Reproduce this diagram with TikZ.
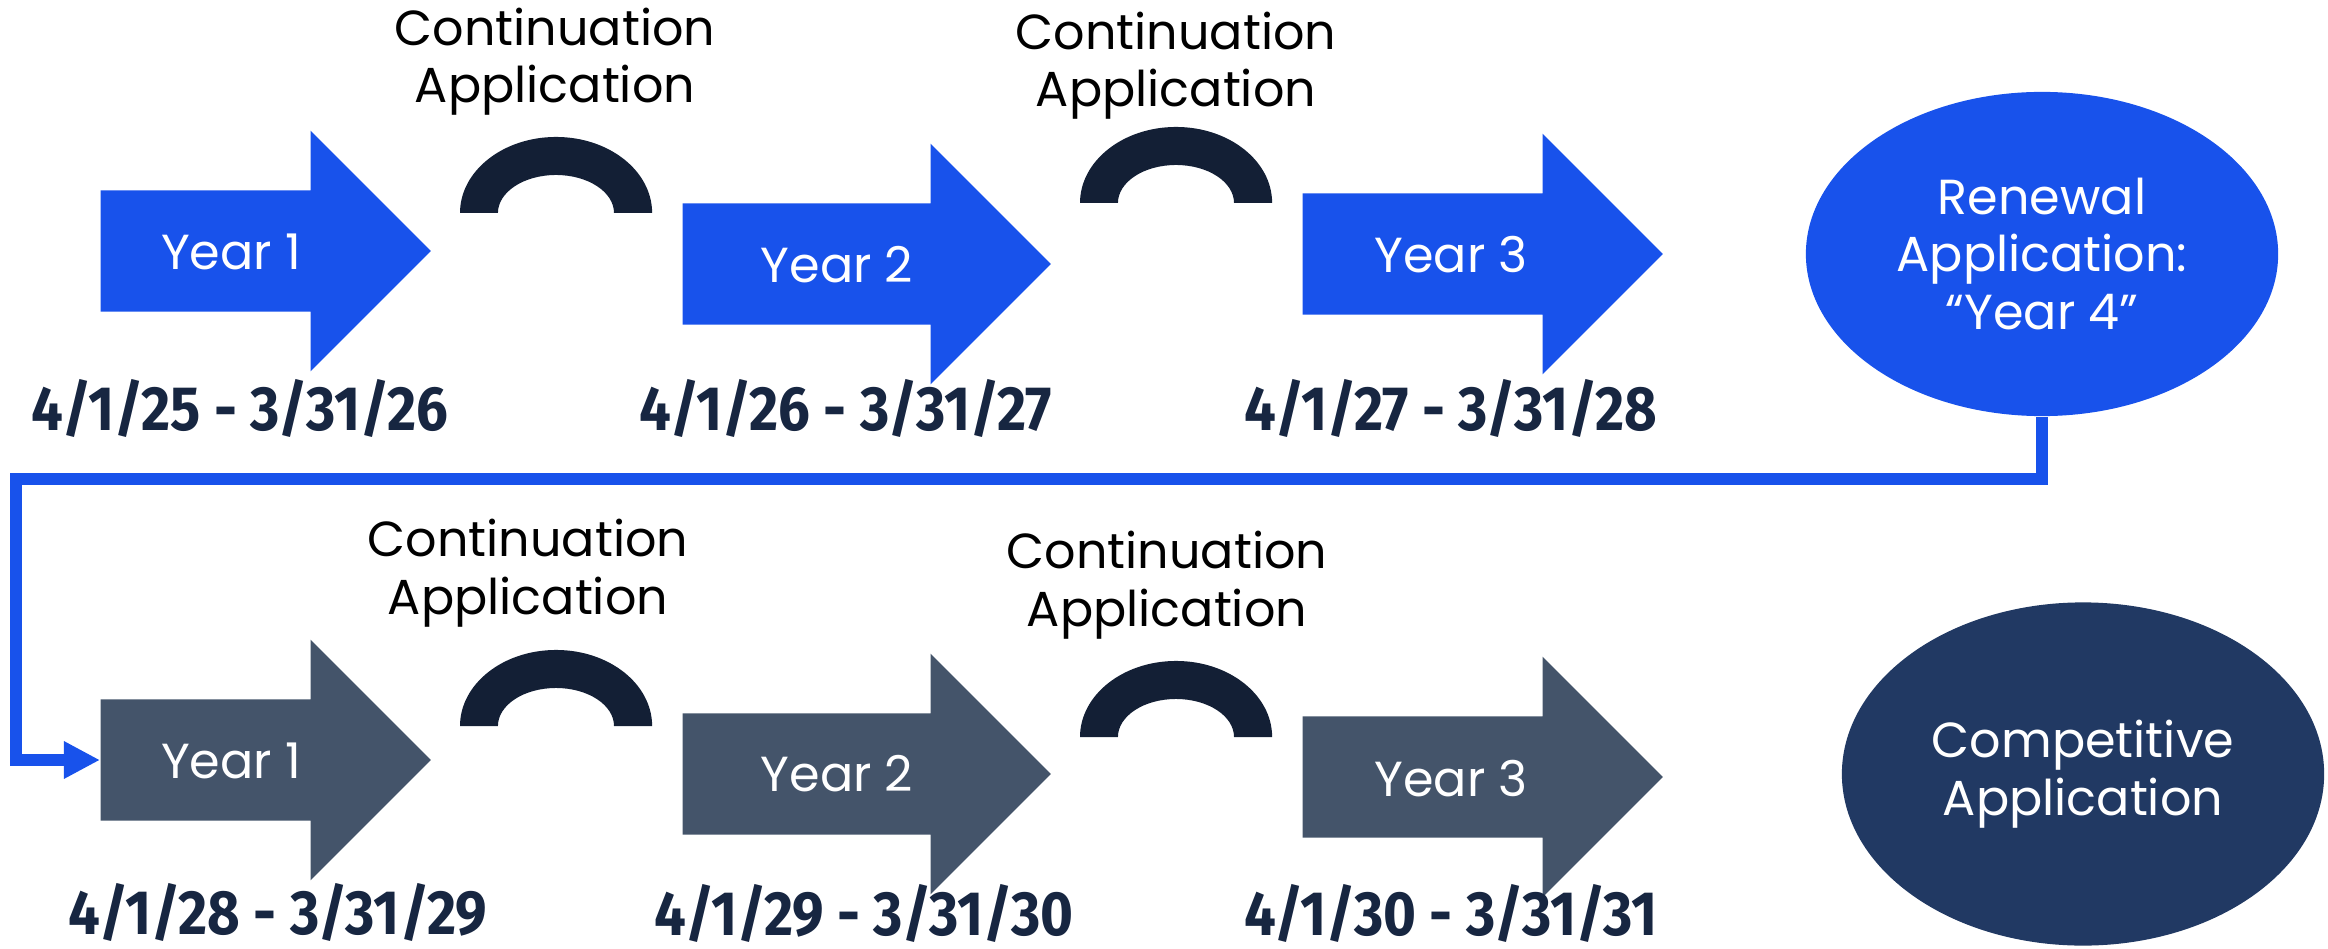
\documentclass[tikz,border=0pt]{standalone}
\usepackage{fontspec}
\setmainfont{Poppins}
\newfontfamily\datefont[FakeStretch=0.9]{Fira Sans}
\usetikzlibrary{shapes.arrows,shapes.geometric,arrows.meta}

\definecolor{yearblue}{HTML}{1852EB}
\definecolor{yeargray}{HTML}{44546A}
\definecolor{archnavy}{HTML}{131F35}
\definecolor{datenavy}{HTML}{172641}
\definecolor{compnavy}{HTML}{213963}

\tikzset{
  yeararrow/.style={single arrow, single arrow head extend=0.595cm,
    single arrow tip angle=90, minimum height=3.3cm,
    inner sep=0pt, text height=1.2cm, text depth=0pt, anchor=tail},
  yeartext/.style={text=white, font=\fontsize{14}{16}\selectfont},
  datelabel/.style={anchor=base, text=datenavy,
    font=\datefont\bfseries\fontsize{17.8}{19}\selectfont},
  contlabel/.style={anchor=base, align=center,
    font=\fontsize{14}{16.3}\selectfont},
  bigoval/.style={ellipse, text=white, align=center, inner sep=0pt,
    font=\fontsize{14}{16.3}\selectfont},
  link/.style={draw=yearblue, line width=0.115cm, -{Triangle[length=0.36cm,width=0.35cm]}}
}

\newcommand{\archshape}[2]{%
  \fill[archnavy] (#1-96,#2) arc[start angle=180, end angle=0, x radius=0.96cm, y radius=0.76cm]
    -- (#1+58,#2) arc[start angle=0, end angle=180, x radius=0.58cm, y radius=0.38cm] -- cycle;}

\begin{document}
\begin{tikzpicture}[x=0.01cm, y=-0.01cm]
\useasboundingbox (0,0) rectangle (2328,949);

\begin{scope}[every node/.style={yeararrow, fill=yearblue}]
    \node (a1) at (100,251) {};
    \node[minimum height=3.68cm] (a2) at (682,264) {};
    \node[minimum height=3.6cm] (a3) at (1302,254) {};
\end{scope}
\begin{scope}[every node/.style={yeararrow, fill=yeargray}]
    \node (b1) at (100,760) {};
    \node[minimum height=3.68cm] (b2) at (682,774) {};
    \node[minimum height=3.6cm] (b3) at (1302,777) {};
\end{scope}

\begin{scope}[every node/.style={yeartext}]
    \node (ya1) at (231,252) {Year 1};
    \node (ya2) at (837,265) {Year 2};
    \node (ya3) at (1451,255) {Year 3};
    \node (yb1) at (231,761) {Year 1};
    \node (yb2) at (837,774) {Year 2};
    \node (yb3) at (1451,779) {Year 3};
\end{scope}

\begin{scope}[every node/.style={datelabel}]
    \node (d1) at (240,430) {4/1/25 - 3/31/26};
    \node (d2) at (846,430) {4/1/26 - 3/31/27};
    \node (d3) at (1451,430) {4/1/27 - 3/31/28};
    \node (d4) at (278,934) {4/1/28 - 3/31/29};
    \node (d5) at (864,935) {4/1/29 - 3/31/30};
    \node (d6) at (1451,935) {4/1/30 - 3/31/31};
\end{scope}

\begin{scope}[every node/.style={contlabel}]
    \node (c1) at (555,103) {Continuation\\Application};
    \node (c2) at (1176,107) {Continuation\\Application};
    \node (c3) at (528,614) {Continuation\\Application};
    \node (c4) at (1167,626) {Continuation\\Application};
\end{scope}

\archshape{556}{213}
\archshape{1176}{203}
\archshape{556}{726}
\archshape{1176}{737}

\node[bigoval, fill=yearblue, minimum width=4.72cm, minimum height=3.24cm] (renew) at (2042,254)
    {Renewal\\Application:\\``Year 4''};
\node[bigoval, fill=compnavy, minimum width=4.82cm, minimum height=3.43cm] (comp) at (2083,774)
    {Competitive\\Application};

\coordinate (turn) at (16,479);
\draw[link] (renew.south) |- (turn) |- (b1.tail);
\end{tikzpicture}
\end{document}
